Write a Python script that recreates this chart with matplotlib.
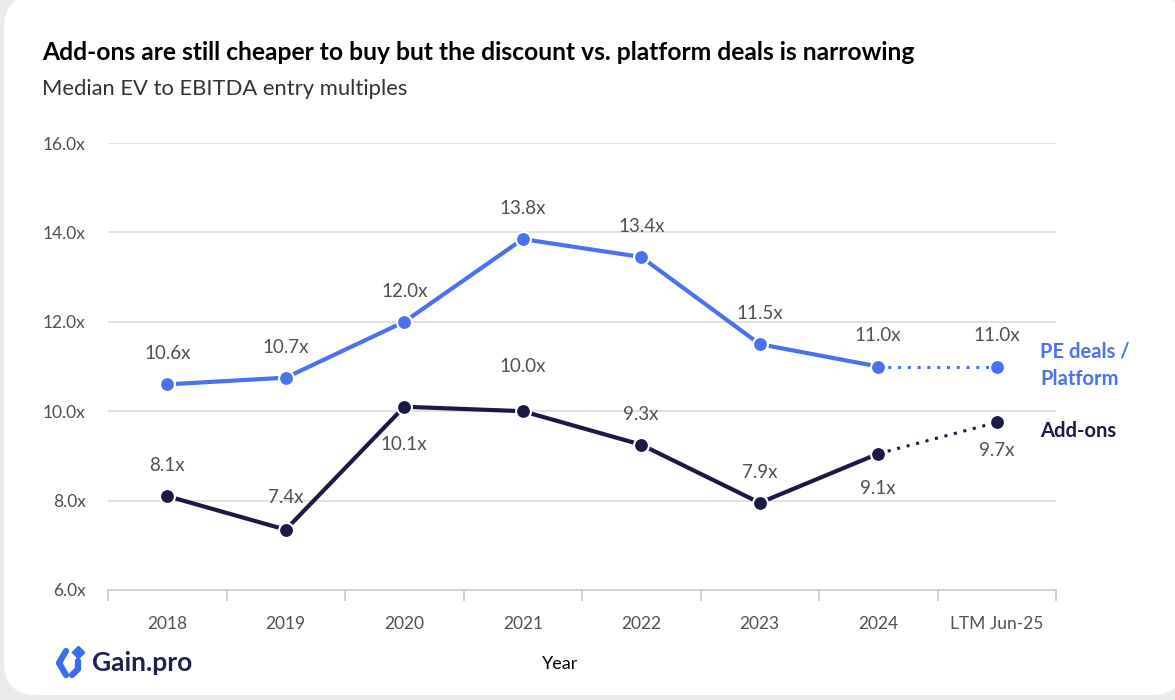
import numpy as np
import matplotlib
matplotlib.use('Agg')
import matplotlib.pyplot as plt
from matplotlib.patches import FancyBboxPatch

plt.rcParams['font.family'] = ['Lato', 'DejaVu Sans']

# data
years = ['2018', '2019', '2020', '2021', '2022', '2023', '2024', 'LTM Jun-25']
platform = [10.6, 10.75, 12.0, 13.85, 13.45, 11.5, 11.0, 11.0]
platform_lbl = ['10.6x', '10.7x', '12.0x', '13.8x', '13.4x', '11.5x', '11.0x', '11.0x']
addons = [8.1, 7.35, 10.1, 10.0, 9.25, 7.95, 9.05, 9.75]
addons_lbl = ['8.1x', '7.4x', '10.1x', '10.0x', '9.3x', '7.9x', '9.1x', '9.7x']
# label offsets (points) for the add-on series: positive = above
addons_off = [22, 23, -27, 32, 22, 22, -25, -20]
yticks = [6, 8, 10, 12, 14, 16]

BLUE = '#4a72f0'
NAVY = '#1b1a47'
GREY = '#505050'

W, H = 1175, 700
fig = plt.figure(figsize=(W / 100, H / 100), dpi=100)
fig.patch.set_facecolor('#e9ebec')

# white card
card = FancyBboxPatch((4 / W, 5 / H), 1180 / W, 700 / H,
                      boxstyle='round,pad=0,rounding_size=0.028',
                      transform=fig.transFigure, facecolor='white',
                      edgecolor='none', zorder=-10, mutation_aspect=W / H)
fig.patches.append(card)

ax = fig.add_axes([108 / W, 1 - 590 / H, (1056 - 108) / W, (590 - 143) / H])
ax.set_facecolor('none')
x = np.arange(len(years))

ax.set_xlim(-0.5, len(years) - 0.5)
ax.set_ylim(6, 16)
for s in ['top', 'right', 'left']:
    ax.spines[s].set_visible(False)
ax.spines['bottom'].set_color('#c9c9c9')
ax.spines['bottom'].set_linewidth(1.2)
ax.set_yticks(yticks)
ax.set_yticklabels([f'{v:.1f}x' for v in yticks])
ax.tick_params(axis='y', length=0, pad=16, labelsize=12.5, labelcolor=GREY)
ax.set_xticks(x)
ax.set_xticklabels(years)
ax.tick_params(axis='x', length=0, pad=19, labelsize=12.5, labelcolor=GREY)
ax.set_xticks(np.arange(len(years) + 1) - 0.5, minor=True)
ax.tick_params(axis='x', which='minor', length=8, width=1.2, color='#c9c9c9')
for v in yticks[1:]:
    ax.axhline(v, color='#dedede', lw=1.3, zorder=1)

# solid part up to 2024, dotted to LTM
for vals, col in [(platform, BLUE), (addons, NAVY)]:
    ax.plot(x[:7], vals[:7], color=col, lw=3, zorder=3, solid_capstyle='round')
    ax.plot(x[6:], vals[6:], color=col, lw=2.2, ls=(0, (1, 2.2)), zorder=3)
    ax.scatter(x, vals, s=115, color=col, edgecolor='white', linewidth=1.5, zorder=4)

for xi, v, t in zip(x, platform, platform_lbl):
    ax.annotate(t, (xi, v), xytext=(0, 22), textcoords='offset points',
                ha='center', va='center', fontsize=13.5, color=GREY)
for xi, v, t, o in zip(x, addons, addons_lbl, addons_off):
    ax.annotate(t, (xi, v), xytext=(0, o), textcoords='offset points',
                ha='center', va='center', fontsize=13.5, color=GREY)

# series names
fig.text(1040 / W, 1 - 365 / H, 'PE deals /\nPlatform', ha='left', va='center',
         fontsize=14.5, fontweight='bold', color=BLUE, linespacing=1.5)
fig.text(1040 / W, 1 - 431 / H, 'Add-ons', ha='left', va='center',
         fontsize=14.5, fontweight='bold', color=NAVY)

fig.text(42 / W, 1 - 52 / H,
         'Add-ons are still cheaper to buy but the discount vs. platform deals is narrowing',
         ha='left', va='center', fontsize=17.7, fontweight='bold', color='black')
fig.text(42 / W, 1 - 89 / H, 'Median EV to EBITDA entry multiples', ha='left',
         va='center', fontsize=15.8, color='#333333')
fig.text(560 / W, 1 - 664 / H, 'Year', ha='center', va='center', fontsize=13,
         color='black')

# logo
lx = fig.add_axes([54 / W, 1 - 680 / H, 30 / W, 34 / H])
lx.set_xlim(0, 30)
lx.set_ylim(0, 34)
lx.axis('off')
lx.plot([12, 5, 12], [29, 17, 5], color='#3a6cf4', lw=4.5, solid_capstyle='round',
        solid_joinstyle='round')
lx.plot([24, 24, 18], [19, 11, 5], color='#3a6cf4', lw=4.5, solid_capstyle='round',
        solid_joinstyle='round')
lx.scatter([24], [28], marker='D', s=40, color='#3a6cf4')
fig.text(92 / W, 1 - 663 / H, 'Gain.pro', ha='left', va='center', fontsize=19,
         fontweight='bold', color='#1f2150')

fig.savefig('out.png', dpi=100, facecolor=fig.get_facecolor())
